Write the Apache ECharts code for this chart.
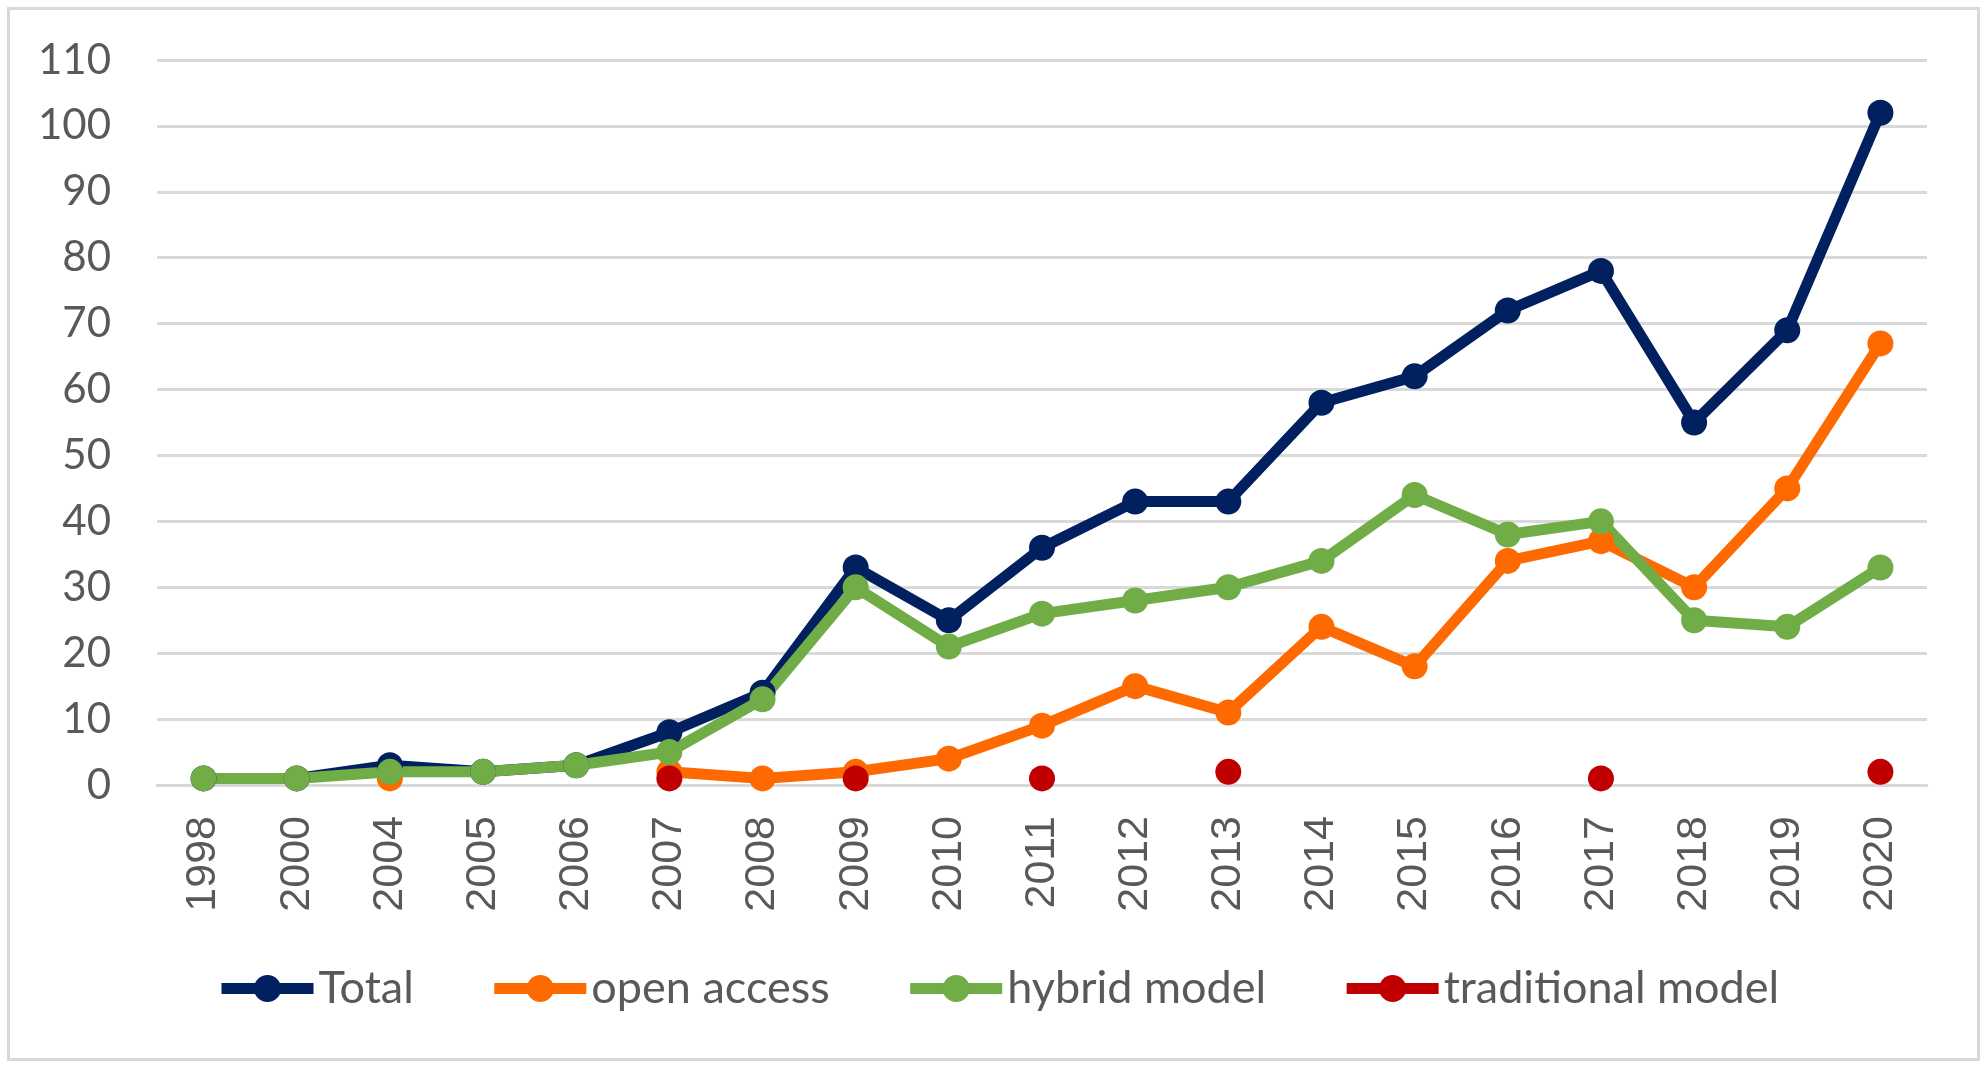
<!DOCTYPE html>
<html>
<head>
<meta charset="utf-8">
<script src="https://cdn.jsdelivr.net/npm/echarts@6/dist/echarts.min.js"></script>
<style>
html,body{margin:0;padding:0;background:#fff;}
#chart{width:1985px;height:1067px;}
</style>
</head>
<body>
<div id="chart"></div>
<script>
const years = ['1998','2000','2004','2005','2006','2007','2008','2009','2010','2011','2012','2013','2014','2015','2016','2017','2018','2019','2020'];
const totalValues = [1,1,3,2,3,8,14,33,25,36,43,43,58,62,72,78,55,69,102];
const openAccessValues = [null,null,1,null,null,2,1,2,4,9,15,11,24,18,34,37,30,45,67];
const hybridValues = [1,1,2,2,3,5,13,30,21,26,28,30,34,44,38,40,25,24,33];
const traditionalValues = [null,null,null,null,null,1,null,1,null,1,null,2,null,null,null,1,null,null,2];
const yTicks = {min:0, max:110, interval:10};

const chart = echarts.init(document.getElementById('chart'), null, {renderer:'canvas'});

function mk(name, data, color){
  return {
    name: name, type: 'line', data: data,
    symbol: 'circle', symbolSize: 26,
    connectNulls: false,
    lineStyle: {color: color, width: 11},
    itemStyle: {color: color},
    emphasis: {disabled: true}
  };
}

chart.setOption({
  animation: false,
  backgroundColor: '#ffffff',
  graphic: [{
    type: 'rect', left: 7, top: 7, z: -10,
    shape: {x: 0, y: 0, width: 1970, height: 1051},
    style: {fill: '#ffffff', stroke: '#D9D9D9', lineWidth: 3}
  }],
  grid: {left: 157, right: 58, top: 60, bottom: 282},
  legend: {
    left: 211, top: 961,
    itemWidth: 92, itemHeight: 34, itemGap: 75,
    lineStyle: {width: 11},
    textStyle: {fontFamily: 'Lato', fontSize: 45, color: '#595959'},
    data: ['Total','open access','hybrid model','traditional model']
  },
  xAxis: {
    type: 'category', data: years, boundaryGap: true,
    axisLine: {lineStyle: {color: '#D9D9D9', width: 3}},
    axisTick: {show: false},
    axisLabel: {rotate: 90, margin: 31, fontFamily: 'Liberation Sans', fontSize: 43, color: '#595959', interval: 0}
  },
  yAxis: {
    type: 'value', min: yTicks.min, max: yTicks.max, interval: yTicks.interval,
    axisLine: {show: false}, axisTick: {show: false},
    splitLine: {lineStyle: {color: '#D9D9D9', width: 3}},
    axisLabel: {margin: 46, fontFamily: 'Lato', fontSize: 42, color: '#595959'}
  },
  series: [
    mk('Total', totalValues, '#002060'),
    mk('open access', openAccessValues, '#FF6A00'),
    mk('hybrid model', hybridValues, '#70AD47'),
    mk('traditional model', traditionalValues, '#C00000')
  ]
});
</script>
</body>
</html>
